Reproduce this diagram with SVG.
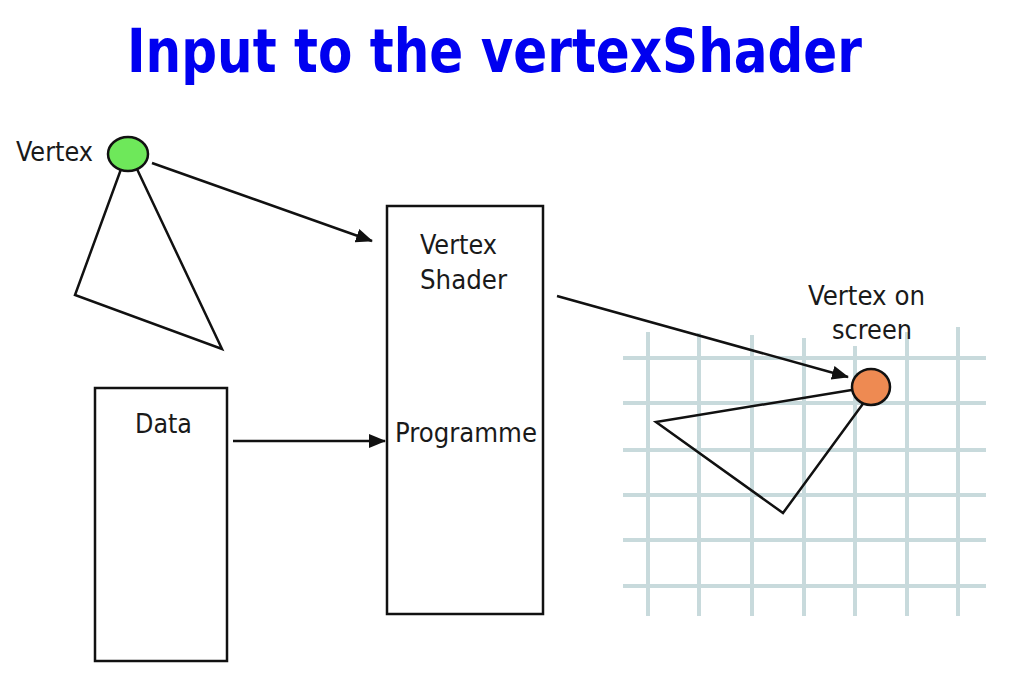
<svg xmlns="http://www.w3.org/2000/svg" width="1012" height="680" viewBox="0 0 1012 680">
<style>
.lbl{font-family:"DejaVu Sans Condensed","DejaVu Sans",Verdana,sans-serif;font-size:26px;fill:#1a1a1a;}
.title{font-family:"DejaVu Sans Condensed","DejaVu Sans",Verdana,sans-serif;font-size:60px;font-weight:bold;fill:#0000f0;}
.box{fill:#fff;stroke:#111;stroke-width:2.5;}
.tri{fill:none;stroke:#111;stroke-width:2.5;stroke-linejoin:miter;}
.conn{stroke:#111;stroke-width:2.5;fill:none;}
.grid line{stroke:#c8dadc;stroke-width:4;}
</style>
<defs>
<marker id="arr" viewBox="0 0 17 14" refX="16" refY="7" markerWidth="17" markerHeight="14" markerUnits="userSpaceOnUse" orient="auto">
<path d="M0,0 L17,7 L0,14 z" fill="#111"/>
</marker>
</defs>
<rect width="1012" height="680" fill="#fff"/>
<text class="title" x="127" y="72" textLength="735" lengthAdjust="spacingAndGlyphs">Input to the vertexShader</text>

<g id="screen-grid" class="grid">
<line x1="623" y1="358" x2="986" y2="358"/>
<line x1="623" y1="403" x2="986" y2="403"/>
<line x1="623" y1="450" x2="986" y2="450"/>
<line x1="623" y1="495" x2="986" y2="495"/>
<line x1="623" y1="540" x2="986" y2="540"/>
<line x1="623" y1="586" x2="986" y2="586"/>
<line x1="648" y1="332" x2="648" y2="616"/>
<line x1="699" y1="333" x2="699" y2="616"/>
<line x1="752" y1="335" x2="752" y2="616"/>
<line x1="804" y1="338" x2="804" y2="616"/>
<line x1="855" y1="346" x2="855" y2="616"/>
<line x1="907" y1="332" x2="907" y2="616"/>
<line x1="958" y1="327" x2="958" y2="616"/>
</g>

<g id="input-vertex">
<polygon class="tri" points="128,150 222,349 75,295"/>
<ellipse cx="128" cy="154" rx="20" ry="17" fill="#6ee85a" stroke="#111" stroke-width="2.5"/>
<text class="lbl" x="16" y="161" textLength="77" lengthAdjust="spacingAndGlyphs">Vertex</text>
</g>

<g id="vertex-shader">
<rect class="box" x="387" y="206" width="156" height="408"/>
<text class="lbl" x="420" y="254" textLength="77" lengthAdjust="spacingAndGlyphs">Vertex</text>
<text class="lbl" x="420" y="289" textLength="87" lengthAdjust="spacingAndGlyphs">Shader</text>
<text class="lbl" x="395" y="442" textLength="142" lengthAdjust="spacingAndGlyphs">Programme</text>
</g>

<g id="data">
<rect class="box" x="95" y="388" width="132" height="273"/>
<text class="lbl" x="135" y="433" textLength="57" lengthAdjust="spacingAndGlyphs">Data</text>
</g>

<g id="screen-vertex">
<polygon class="tri" points="876,386 656,422 783,513"/>
<ellipse cx="871" cy="387" rx="19" ry="18" fill="#ee8a52" stroke="#111" stroke-width="2.5"/>
<text class="lbl" x="808" y="305" textLength="117" lengthAdjust="spacingAndGlyphs">Vertex on</text>
<text class="lbl" x="832" y="339" textLength="80" lengthAdjust="spacingAndGlyphs">screen</text>
</g>

<g id="connectors">
<line class="conn" x1="152" y1="163" x2="372" y2="241" marker-end="url(#arr)"/>
<line class="conn" x1="233" y1="441" x2="385" y2="441" marker-end="url(#arr)"/>
<line class="conn" x1="557" y1="296" x2="848" y2="377" marker-end="url(#arr)"/>
</g>
</svg>
